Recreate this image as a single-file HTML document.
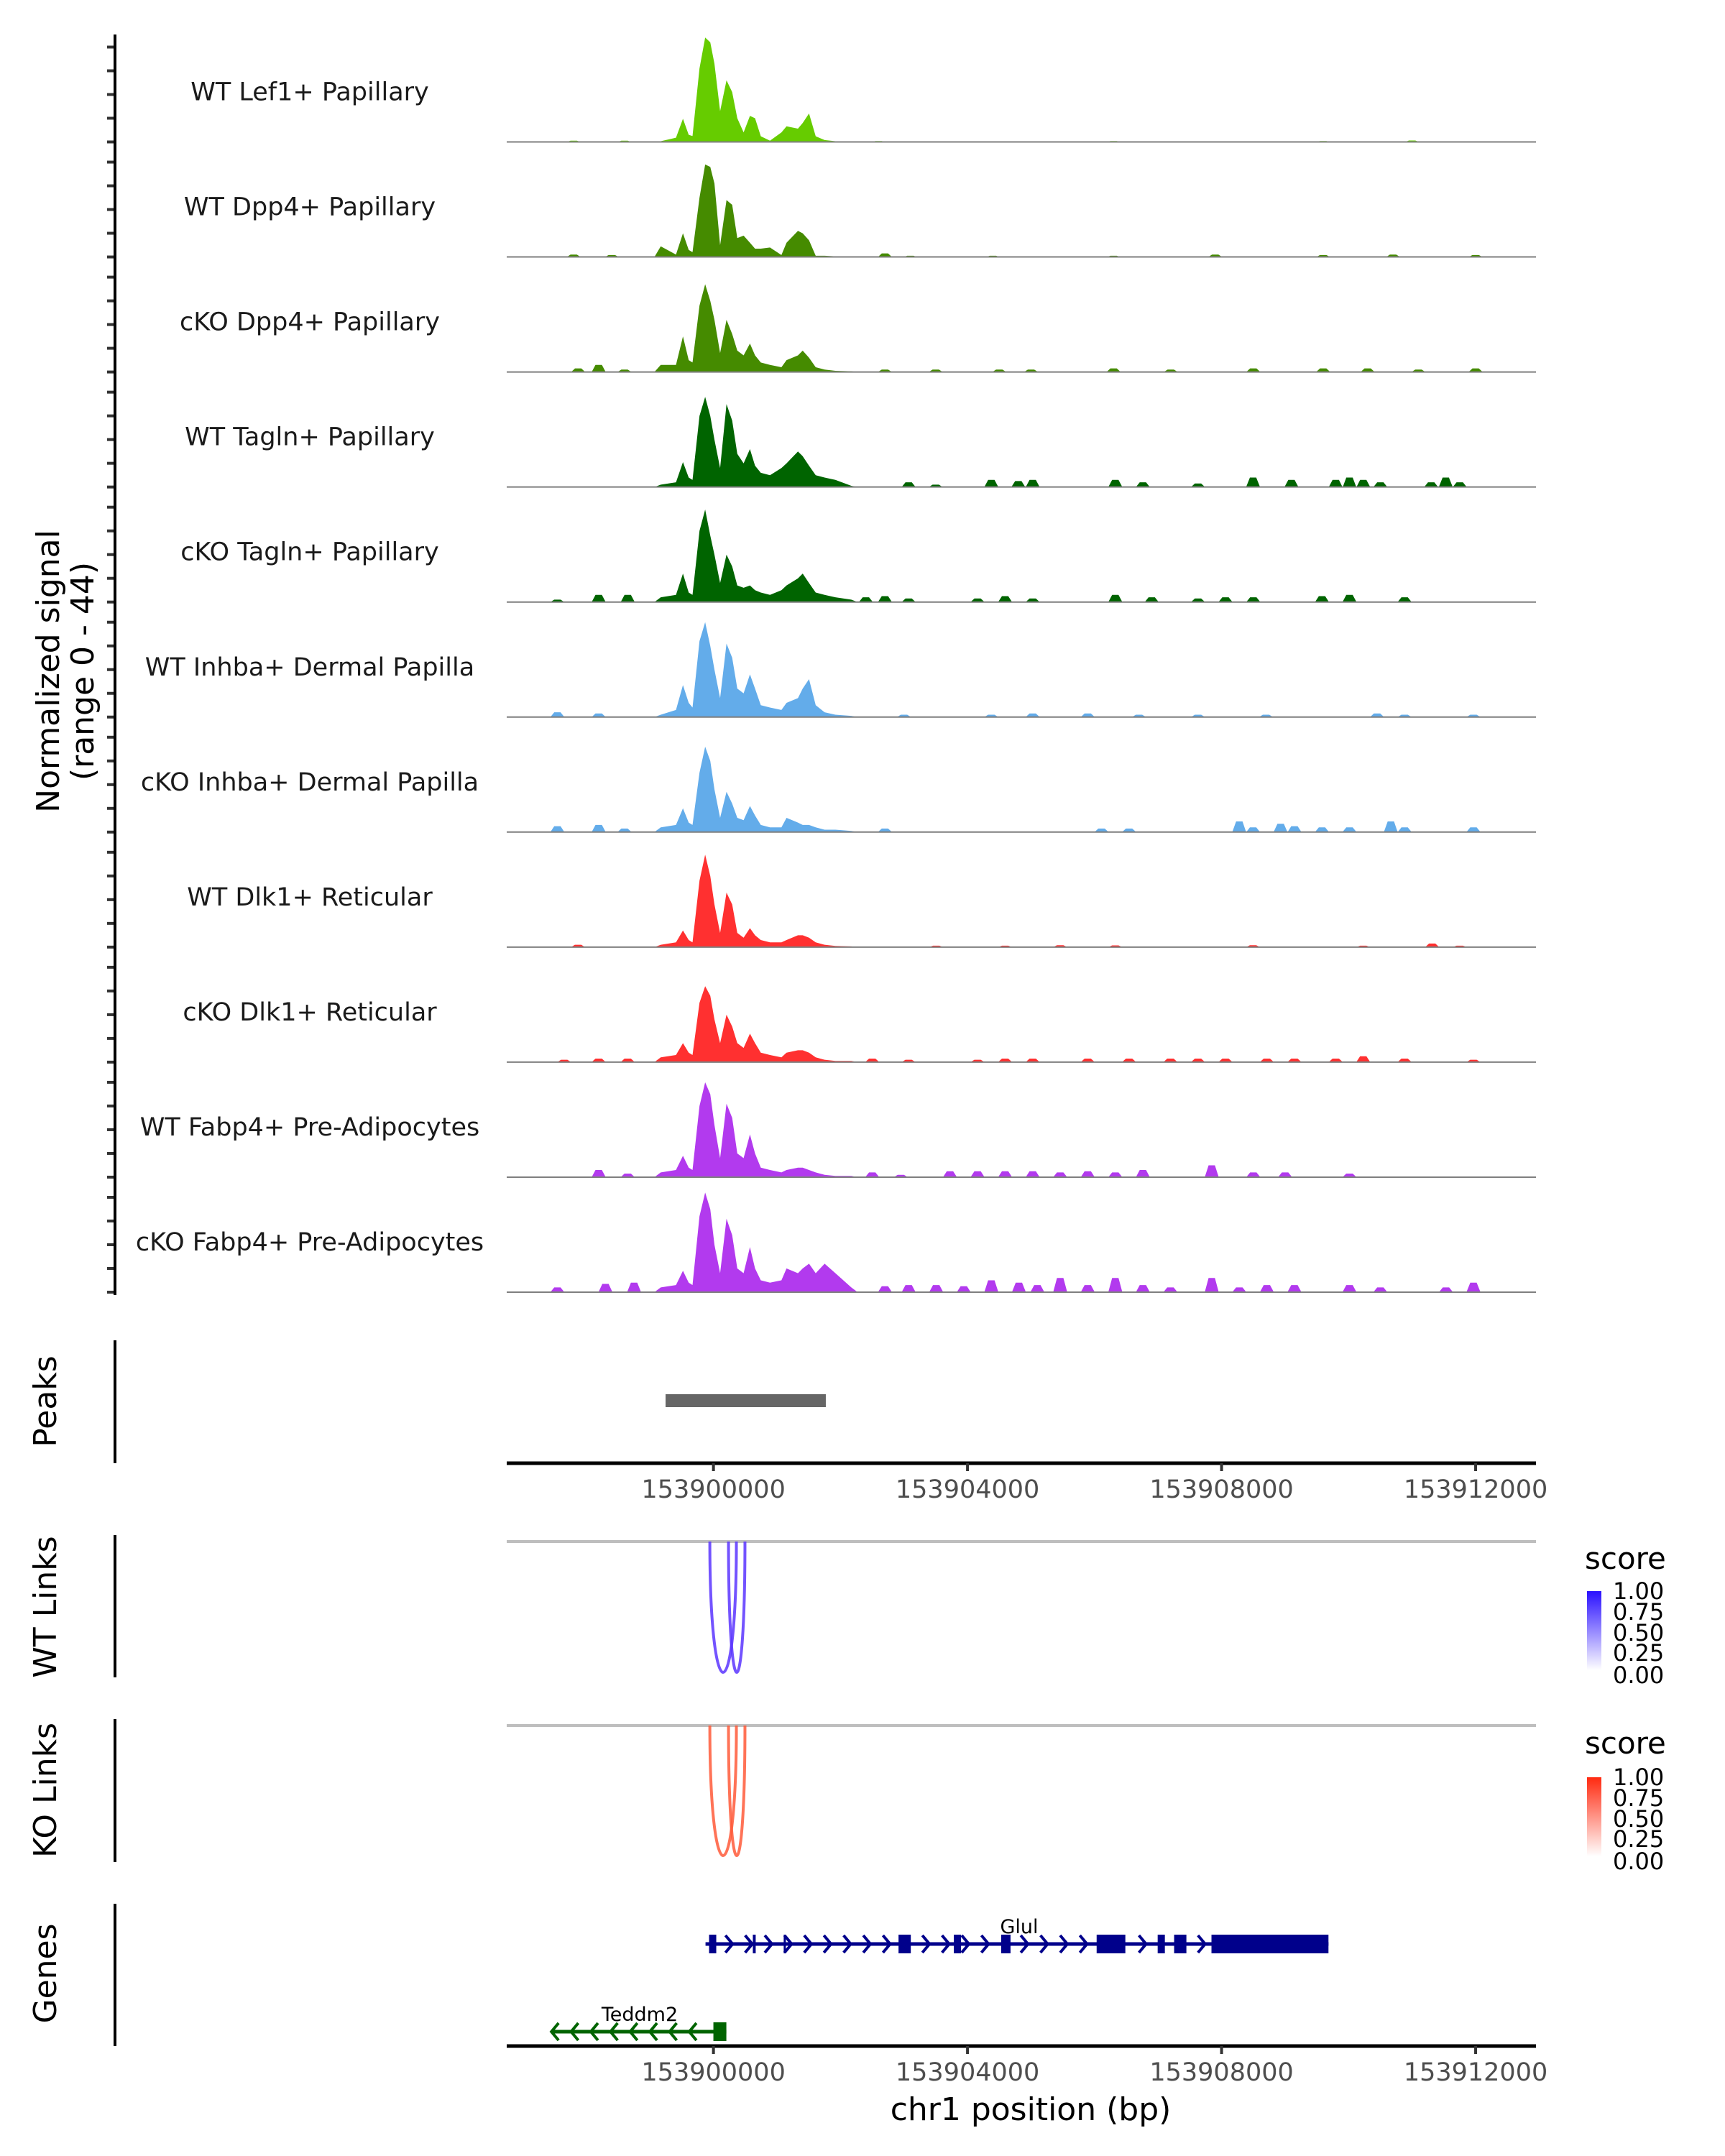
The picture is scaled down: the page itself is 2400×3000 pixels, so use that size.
<!DOCTYPE html>
<html><head><meta charset="utf-8"><style>
html,body{margin:0;padding:0;background:#fff}
svg{display:block;font-family:"DejaVu Sans","Liberation Sans",sans-serif}
</style></head><body>
<svg id="chart" width="2400" height="3000" viewBox="0 0 2400 3000" xmlns="http://www.w3.org/2000/svg">
<defs>
<linearGradient id="gWT" x1="0" y1="1" x2="0" y2="0"><stop offset="0" stop-color="#ffffff"/><stop offset="1" stop-color="#2a10ff"/></linearGradient>
<linearGradient id="gKO" x1="0" y1="1" x2="0" y2="0"><stop offset="0" stop-color="#ffffff"/><stop offset="1" stop-color="#ff2a10"/></linearGradient>
</defs>
<g id="tracks"></g>
<g id="axes"></g>
<text transform="translate(82,934) rotate(-90)" text-anchor="middle" font-size="44" fill="#000">Normalized signal</text>
<text transform="translate(130,934) rotate(-90)" text-anchor="middle" font-size="44" fill="#000">(range 0 - 44)</text>
<text transform="translate(78,1950) rotate(-90)" text-anchor="middle" font-size="44" fill="#000">Peaks</text>
<text transform="translate(78,2236) rotate(-90)" text-anchor="middle" font-size="44" fill="#000">WT Links</text>
<text transform="translate(78,2491) rotate(-90)" text-anchor="middle" font-size="44" fill="#000">KO Links</text>
<text transform="translate(78,2746) rotate(-90)" text-anchor="middle" font-size="44" fill="#000">Genes</text>
<text x="1434" y="2950" text-anchor="middle" font-size="44" fill="#000">chr1 position (bp)</text>
<g>
<text x="2205" y="2183" font-size="42" fill="#000">score</text>
<rect x="2208" y="2214" width="20" height="110" fill="url(#gWT)"/>
<g font-size="32" fill="#000"><text x="2244" y="2225">1.00</text><text x="2244" y="2254">0.75</text><text x="2244" y="2283">0.50</text><text x="2244" y="2311">0.25</text><text x="2244" y="2342">0.00</text></g>
</g>
<g>
<text x="2205" y="2440" font-size="42" fill="#000">score</text>
<rect x="2208" y="2473" width="20" height="110" fill="url(#gKO)"/>
<g font-size="32" fill="#000"><text x="2244" y="2484">1.00</text><text x="2244" y="2513">0.75</text><text x="2244" y="2542">0.50</text><text x="2244" y="2570">0.25</text><text x="2244" y="2601">0.00</text></g>
</g>
</svg>
<script>
const trackNames = ["WT Lef1+ Papillary","WT Dpp4+ Papillary","cKO Dpp4+ Papillary","WT Tagln+ Papillary","cKO Tagln+ Papillary","WT Inhba+ Dermal Papilla","cKO Inhba+ Dermal Papilla","WT Dlk1+ Reticular","cKO Dlk1+ Reticular","WT Fabp4+ Pre-Adipocytes","cKO Fabp4+ Pre-Adipocytes"];
const trackColors = ["#66cc00","#458b00","#458b00","#006400","#006400","#63acea","#63acea","#ff3030","#ff3030","#b23aee","#b23aee"];
const corePositions = [153899170,153899410,153899520,153899610,153899670,153899780,153899870,153899950,153900015,153900105,153900206,153900295,153900375,153900475,153900575,153900655,153900745,153900890,153901070,153901150,153901330,153901405,153901505,153901610,153901750,153901920,153902170];
const coreLef1 = [0.3,1.8,9.8,3,2.5,31,44,42,33,13,26,21,10,4,11,10,2.4,0.5,4,6.6,5.6,8,12,2.4,0.8,0.3,0];
const coreWTDpp4 = [4.5,1,10,3,2,25,39,38,31,5,24,22,8,9,6,3.5,3.5,4,0.8,6,11,10,7,0.5,0.5,0.3,0.3];
const coreKODpp4 = [3,3,15,5,4,28,37,30,22,8,22,16,9,7,12,7,4,3,2,5,7,9,6,2,1,0.5,0.3];
const coreWTTagln = [1,2,10.5,4,3,30,38,30,20,8,35,28,14,10,16,9,6,5,8,10,15,13,9,5,4,3,0.5];
const coreKOTagln = [2,3,12,4,3,30,39,28,20,8,20,15,7,6,7,5,4,3,5,7,10,12,8,4,3,2,1];
const coreWTInhba = [1,3,13.5,6,4,32,40,30,20,8,31,25,12,10,18,12,5,4,3,6,8,12,16,5,2,1,0.5];
const coreKOInhba = [2,3,10,4,3,25,36,30,18,6,17,12,6,5,11,7,3,2,2,6,4,3,3,2,1,1,0.5];
const coreWTDlk1 = [1,2,7,3,2,28,39,30,18,6,23,18,6,4,8,5,3,2,2,3,5,5,4,2,1,0.5,0.3];
const coreKODlk1 = [2,3,8,4,3,25,32,28,18,8,20,15,8,6,12,8,4,3,2,4,5,5,4,2,1,0.5,0.5];
const coreWTFabp4 = [2,3,9,4,3,30,40,35,22,8,31,25,10,8,18,10,4,3,2,3,4,4,3,2,1,0.5,0.5];
const coreKOFabp4 = [2,3,9,4,3,32,42,35,20,8,31,24,10,8,19,10,5,4,5,10,8,10,12,8,12,8,2];
const bumpsLef1 = [[153897800,0.5],[153898600,0.5],[153902600,0.4],[153906300,0.4],[153909600,0.4],[153911000,0.6]];
const bumpsWTDpp4 = [[153897800,1],[153898400,0.8],[153902700,1.5],[153903100,0.5],[153904400,0.5],[153906300,0.5],[153907900,1],[153909600,0.8],[153910700,1],[153912000,0.8]];
const bumpsKODpp4 = [[153897870,1.5],[153898193,3],[153898600,1],[153902700,1],[153903500,1],[153904500,1],[153905000,1],[153906300,1.5],[153907200,1],[153908500,1.5],[153909600,1.5],[153910300,1.5],[153911100,1],[153912000,1.5]];
const bumpsWTTagln = [[153903073,2],[153903500,1],[153904375,3],[153904800,2.5],[153905026,3],[153906327,3],[153906761,2],[153907629,1.5],[153908496,4],[153909100,3],[153909798,3],[153910014,4],[153910231,3],[153910500,2],[153911300,2],[153911530,4],[153911750,2]];
const bumpsKOTagln = [[153897543,1],[153898193,3],[153898650,3],[153902400,2],[153902700,2.5],[153903073,1.5],[153904158,1.5],[153904592,2.5],[153905026,1.5],[153906327,3],[153906900,2],[153907629,1.5],[153908062,2],[153908500,2],[153909581,2.5],[153910014,3],[153910882,2]];
const bumpsWTInhba = [[153897543,2],[153898193,1.5],[153903000,1],[153904375,1],[153905026,1.5],[153905893,1.5],[153906700,1],[153907629,1],[153908700,1],[153910448,1.5],[153910882,1],[153911966,1]];
const bumpsKOInhba = [[153897543,2.5],[153898193,3],[153898600,1.5],[153902700,1.5],[153906110,1.5],[153906544,1.5],[153908279,4.5],[153908496,2],[153908930,3.5],[153909147,2.5],[153909581,2],[153910014,2],[153910665,4.5],[153910882,2],[153911966,2]];
const bumpsWTDlk1 = [[153897868,1],[153903507,0.6],[153904592,0.6],[153905459,0.8],[153906327,0.7],[153908496,0.8],[153910231,0.6],[153911316,1.5],[153911750,0.6]];
const bumpsKODlk1 = [[153897650,1],[153898193,1.5],[153898650,1.5],[153902500,1.5],[153903073,1],[153904158,1],[153904592,1.5],[153905026,1.5],[153905893,1.5],[153906544,1.5],[153907195,1.5],[153907629,1.5],[153908062,1.5],[153908713,1.5],[153909147,1.5],[153909798,1.5],[153910231,2.5],[153910882,1.5],[153911966,1]];
const bumpsWTFabp4 = [[153898193,3],[153898650,1.5],[153902500,2],[153902950,1],[153903724,2.5],[153904158,2.5],[153904592,2.5],[153905026,2.5],[153905459,2],[153905893,2.5],[153906327,2],[153906761,3],[153907845,5],[153908500,2],[153909000,2],[153910014,1.5]];
const bumpsKOFabp4 = [[153897543,2],[153898300,3.5],[153898750,4],[153902700,2.5],[153903073,3],[153903507,3],[153903941,2.5],[153904375,5],[153904809,4],[153905100,3],[153905459,6],[153905893,3],[153906327,6],[153906761,3],[153907195,2],[153907845,6],[153908279,2],[153908713,3],[153909147,3],[153910014,3],[153910500,2],[153911533,2],[153911966,4]];
const coreValues = [coreLef1,coreWTDpp4,coreKODpp4,coreWTTagln,coreKOTagln,coreWTInhba,coreKOInhba,coreWTDlk1,coreKODlk1,coreWTFabp4,coreKOFabp4];
const bumpValues = [bumpsLef1,bumpsWTDpp4,bumpsKODpp4,bumpsWTTagln,bumpsKOTagln,bumpsWTInhba,bumpsKOInhba,bumpsWTDlk1,bumpsKODlk1,bumpsWTFabp4,bumpsKOFabp4];
const yTickValues = [0,10,20,30,40];
const xTickValues = [153900000,153904000,153908000,153912000];
const peakRegions = [[153899246,153901769]];
const wtLinks = [[153899943,153900361,0.7],[153900237,153900496,0.7]];
const koLinks = [[153899943,153900361,0.7],[153900237,153900496,0.7]];
const glulGene = [153899875,153909683];
const glulExons = [[153899931,153900044],[153900620,153900665],[153901106,153901129],[153902914,153903107],[153903785,153903898],[153904530,153904677],[153906033,153906485],[153906994,153907107],[153907253,153907446],[153907841,153909683]];
const teddmGene = [153897445,153900203];
const teddmExons = [[153899999,153900203]];

const NS="http://www.w3.org/2000/svg";
const X0=153896745,X1=153912950,PX0=705,PX1=2137;
function xs(bp){return PX0+(bp-X0)/(X1-X0)*(PX1-PX0);}
const YS=3.3, BASE0=197.5, STEP=160.05;
function ys(v,i){return BASE0+i*STEP-Math.min(v,44)*YS;}
function mk(tag,attrs,parent){const e=document.createElementNS(NS,tag);for(const k in attrs)e.setAttribute(k,attrs[k]);parent.appendChild(e);return e;}
const svg=document.getElementById('chart');
const tracks=document.getElementById('tracks');
const axes=document.getElementById('axes');

trackNames.forEach((name,i)=>{
  const g=mk('g',{},tracks);
  
  
  let pts=[];
  bumpValues[i].forEach(b=>{pts.push([b[0]-110,0],[b[0]-50,b[1]],[b[0]+50,b[1]],[b[0]+110,0]);});
  pts.push([corePositions[0]-100,0]);
  corePositions.forEach((p,j)=>pts.push([p,coreValues[i][j]]));
  pts.push([corePositions[corePositions.length-1]+100,0]);
  pts.sort((a,b)=>a[0]-b[0]);
  const base=BASE0+i*STEP;
  let d='M'+PX0+','+base;
  pts.forEach(p=>{d+=' L'+xs(p[0]).toFixed(1)+','+ys(p[1],i).toFixed(1);});
  d+=' L'+PX1+','+base+' Z';
  const a=mk('path',{d:d,fill:trackColors[i],stroke:'none'},g);
  
  
  const bl=mk('line',{x1:PX0,x2:PX1,y1:base,y2:base,stroke:'#7f7f7f','stroke-width':2},g);
  
  
  const t=mk('text',{x:431,y:base-58,'text-anchor':'middle','font-size':35,fill:'#1a1a1a'},g);
  
  
  t.textContent=name;
  yTickValues.forEach(v=>{
    const yy=ys(v,i);
    const tk=mk('line',{x1:149,x2:159,y1:yy,y2:yy,stroke:'#333','stroke-width':4},g);
    
    
  });
});
[[48,1802],[1865,2036],[2136,2334],[2392,2591],[2649,2847]].forEach(s=>{
  const l=mk('line',{x1:160,x2:160,y1:s[0],y2:s[1],stroke:'#000','stroke-width':4},axes);
  
  
});
peakRegions.forEach(p=>{
  const r=mk('rect',{x:xs(p[0]),y:1940,width:xs(p[1])-xs(p[0]),height:18,fill:'#666'},axes);
  
  
});
[2036,2847].forEach((ay,k)=>{
  const l=mk('line',{x1:PX0,x2:PX1,y1:ay,y2:ay,stroke:'#000','stroke-width':5},axes);
  
  
  xTickValues.forEach(v=>{
    const tk=mk('line',{x1:xs(v),x2:xs(v),y1:ay,y2:ay+11,stroke:'#333','stroke-width':4},axes);
    
    
    const tl=mk('text',{x:xs(v),y:ay+48,'text-anchor':'middle','font-size':35,fill:'#4d4d4d'},axes);
    
    
    tl.textContent=String(v);
  });
});
function drawLinks(links,top,bottom,color,nm){
  const gl=mk('line',{x1:PX0,x2:PX1,y1:top,y2:top,stroke:'#bebebe','stroke-width':4},axes);
  
  
  links.forEach(l=>{
    const a=xs(l[0]),b=xs(l[1]),c=top+(bottom-top)*4/3;
    const p=mk('path',{d:`M${a},${top} C${a},${c} ${b},${c} ${b},${top}`,fill:'none',stroke:color,'stroke-width':4,'stroke-opacity':0.5+0.5*l[2]},axes);
    
    
  });
}
drawLinks(wtLinks,2145,2327,'#5b35ff','wt-link');
drawLinks(koLinks,2401,2582,'#ff5a3a','ko-link');
function drawGene(gene,exons,y,color,dir,label,lx,ly,nm){
  const g=mk('g',{},axes);
  
  
  mk('line',{x1:xs(gene[0]),x2:xs(gene[1]),y1:y,y2:y,stroke:color,'stroke-width':5},g);
  for(let bp=gene[0]+60;bp<gene[1]-60;bp+=310){
    const inEx=exons.some(e=>bp>=e[0]-40&&bp<=e[1]+40);
    if(inEx)continue;
    const x=xs(bp);
    mk('path',{d:`M${x-5*dir},${y-12} L${x+5*dir},${y} L${x-5*dir},${y+12}`,fill:'none',stroke:color,'stroke-width':4},g);
  }
  exons.forEach(e=>{mk('rect',{x:xs(e[0]),y:y-13,width:Math.max(3,xs(e[1])-xs(e[0])),height:26,fill:color},g);});
  const t=mk('text',{x:lx,y:ly,'text-anchor':'middle','font-size':27,fill:'#000'},g);
  
  
  t.textContent=label;
}
drawGene(glulGene,glulExons,2705,'#00008b',1,'Glul',1418,2690,'gene-glul');
drawGene(teddmGene,teddmExons,2827,'#006400',-1,'Teddm2',890,2812,'gene-teddm2');
</script>
</body></html>
